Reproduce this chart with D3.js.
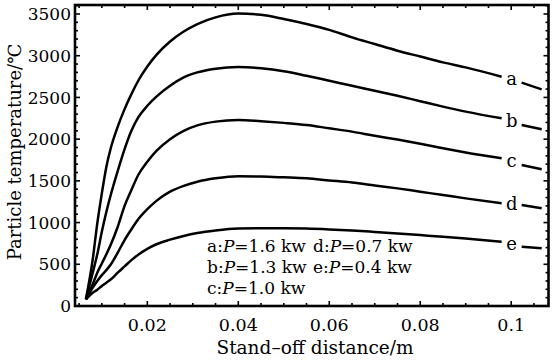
<!DOCTYPE html>
<html>
<head>
<meta charset="utf-8">
<script src="https://cdn.jsdelivr.net/npm/d3@7"></script>
<style>
  body { margin: 0; background: #fff; }
  text { font-family: "DejaVu Serif", serif; fill: #000; }
</style>
</head>
<body>
<div id="chart"></div>
<script>
// distances (m) where the curves were read
var distances = [0.0065, 0.008, 0.009, 0.010, 0.011, 0.012, 0.0135, 0.015, 0.0165, 0.018,
  0.020, 0.022, 0.025, 0.028, 0.031, 0.035, 0.040, 0.045, 0.050, 0.055,
  0.060, 0.065, 0.070, 0.075, 0.080, 0.085, 0.090, 0.0979];
// short piece after the letter label
var tailDistances = [0.1023, 0.1067];

var tempA = [80, 560, 990, 1350, 1670, 1900, 2150, 2360, 2540, 2700,
  2870, 3010, 3170, 3290, 3380, 3460, 3505, 3490, 3440, 3380,
  3310, 3220, 3140, 3060, 2990, 2920, 2860, 2748];
var tempB = [80, 400, 620, 890, 1130, 1340, 1620, 1880, 2100, 2260,
  2400, 2510, 2640, 2740, 2800, 2845, 2865, 2850, 2815, 2760,
  2700, 2640, 2580, 2520, 2455, 2390, 2330, 2250];
var tempC = [80, 260, 400, 510, 620, 740, 950, 1200, 1390, 1570,
  1730, 1860, 2000, 2100, 2165, 2210, 2230, 2215, 2195, 2170,
  2130, 2090, 2040, 1995, 1945, 1890, 1840, 1770];
var tempD = [80, 220, 300, 370, 430, 500, 640, 790, 920, 1040,
  1160, 1260, 1370, 1440, 1490, 1530, 1555, 1552, 1542, 1530,
  1505, 1480, 1445, 1410, 1370, 1330, 1290, 1231];
var tempE = [80, 160, 195, 240, 280, 320, 400, 475, 550, 615,
  685, 740, 795, 840, 875, 905, 928, 932, 932, 928,
  918, 905, 888, 870, 850, 830, 808, 771];

var tailA = [2677, 2597];
var tailB = [2170, 2118];
var tailC = [1690, 1638];
var tailD = [1210, 1171];
var tailE = [711, 691];

var curveNames = ["a", "b", "c", "d", "e"];
var powers = ["1.6", "1.3", "1.0", "0.7", "0.4"];

var xTicks = [0.02, 0.04, 0.06, 0.08, 0.1];
var yTicks = [0, 500, 1000, 1500, 2000, 2500, 3000, 3500];

var svgWidth = 552;
var svgHeight = 363;
var plot = { left: 75, right: 548.5, top: 5, bottom: 306 };

var svg = d3.select("#chart")
  .append("svg")
  .attr("width", svgWidth)
  .attr("height", svgHeight);

var x = d3.scaleLinear()
  .domain([0.0041, 0.1082])
  .range([plot.left, plot.right]);

var y = d3.scaleLinear()
  .domain([0, 3500])
  .range([plot.bottom, 14]);

// inward ticks on all four sides (minor + major)
var xMinor = d3.range(0.005, 0.1076, 0.005);
var yMinor = d3.range(100, 3601, 100);

function isMajorX(v) { return Math.abs(v / 0.02 - Math.round(v / 0.02)) < 1e-6; }

var ticks = svg.append("g")
  .attr("stroke", "#000")
  .attr("stroke-width", 1.6);

xMinor.forEach(function(v) {
  var len = isMajorX(v) ? 5 : 3;
  ticks.append("line").attr("x1", x(v)).attr("x2", x(v))
    .attr("y1", plot.bottom).attr("y2", plot.bottom - len);
  ticks.append("line").attr("x1", x(v)).attr("x2", x(v))
    .attr("y1", plot.top).attr("y2", plot.top + len);
});

yMinor.forEach(function(v) {
  var len = v % 500 === 0 ? 5 : 3;
  ticks.append("line").attr("y1", y(v)).attr("y2", y(v))
    .attr("x1", plot.left).attr("x2", plot.left + len);
  ticks.append("line").attr("y1", y(v)).attr("y2", y(v))
    .attr("x1", plot.right).attr("x2", plot.right - len);
});

// frame
svg.append("rect")
  .attr("x", plot.left)
  .attr("y", plot.top)
  .attr("width", plot.right - plot.left)
  .attr("height", plot.bottom - plot.top)
  .attr("fill", "none")
  .attr("stroke", "#000")
  .attr("stroke-width", 2.6);

// tick labels
svg.selectAll(".xlab")
  .data(xTicks)
  .enter()
  .append("text")
  .attr("x", d => x(d))
  .attr("y", 331)
  .attr("text-anchor", "middle")
  .attr("font-size", "17.5px")
  .text(d => d === 0.1 ? "0.1" : d3.format(".2f")(d));

svg.selectAll(".ylab")
  .data(yTicks)
  .enter()
  .append("text")
  .attr("x", 71)
  .attr("y", d => y(d))
  .attr("dy", "0.36em")
  .attr("text-anchor", "end")
  .attr("font-size", "17px")
  .text(d => d);

// curves
var line = d3.line()
  .x(d => x(d[0]))
  .y(d => y(d[1]))
  .curve(d3.curveMonotoneX);

var mains = [tempA, tempB, tempC, tempD, tempE];
var tails = [tailA, tailB, tailC, tailD, tailE];

mains.forEach(function(vals, i) {
  svg.append("path")
    .datum(distances.map((d, j) => [d, vals[j]]))
    .attr("d", line)
    .attr("fill", "none")
    .attr("stroke", "#000")
    .attr("stroke-width", 2.5);

  svg.append("path")
    .datum(tailDistances.map((d, j) => [d, tails[i][j]]))
    .attr("d", line)
    .attr("fill", "none")
    .attr("stroke", "#000")
    .attr("stroke-width", 2.5);

  // letter in the gap
  var last = vals[vals.length - 1];
  svg.append("text")
    .attr("x", x(0.1001))
    .attr("y", y((last + tails[i][0]) / 2))
    .attr("dy", "0.3em")
    .attr("text-anchor", "middle")
    .attr("font-size", "18px")
    .text(curveNames[i]);
});

// legend: two columns
var legend = svg.append("g").attr("font-size", "17px");
curveNames.forEach(function(n, i) {
  var col = i < 3 ? 0 : 1;
  var row = i < 3 ? i : i - 3;
  var t = legend.append("text")
    .attr("x", col === 0 ? 207 : 313)
    .attr("y", 252 + row * 20.8);
  t.append("tspan").text(n + ":");
  t.append("tspan").attr("font-style", "italic").text("P");
  t.append("tspan").text("=" + powers[i] + " kw");
});

// axis titles
svg.append("text")
  .attr("x", 315)
  .attr("y", 354)
  .attr("text-anchor", "middle")
  .attr("font-size", "18.5px")
  .text("Stand\u2013off distance/m");

svg.append("text")
  .attr("transform", "translate(21, 152) rotate(-90)")
  .attr("text-anchor", "middle")
  .attr("font-size", "18px")
  .text("Particle temperature/\u2103");
</script>
</body>
</html>
